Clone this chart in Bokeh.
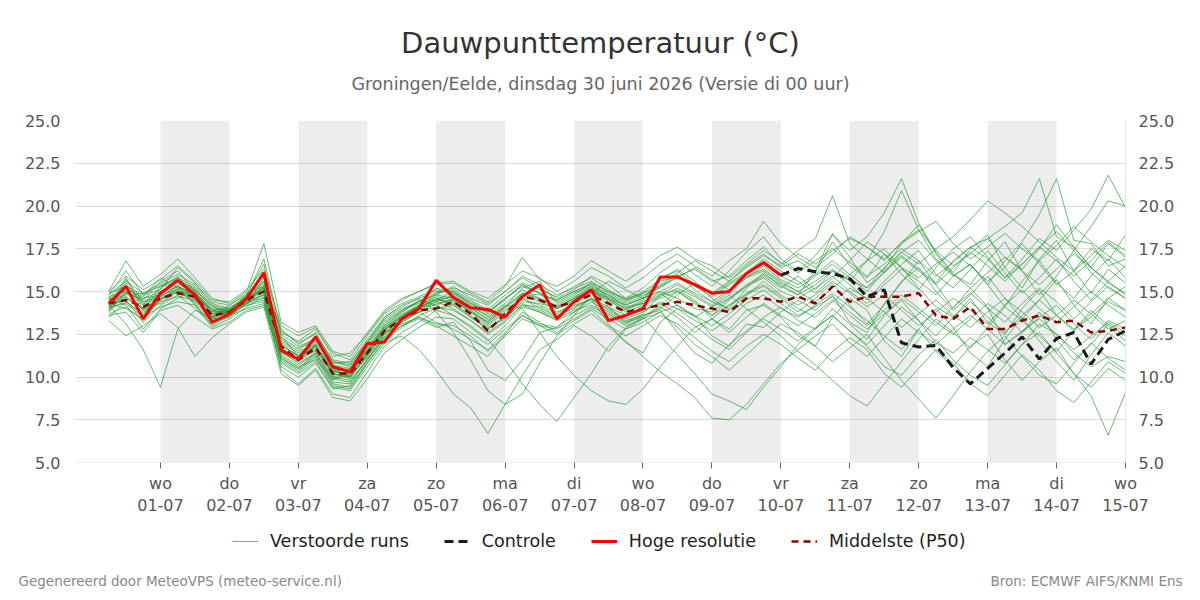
from bokeh.plotting import figure
from bokeh.layouts import column, row
from bokeh.models import (Range1d, LinearAxis, FixedTicker, Legend, LegendItem,
                          BoxAnnotation, PrintfTickFormatter)
from bokeh.core.properties import value
from bokeh.embed import file_html
from bokeh.resources import INLINE

FONT = "DejaVu Sans"

# time axis: days relative to 01-07 00:00, 6-hourly steps starting 30-06 06:00
steps = list(range(60))
t = [-0.75 + 0.25 * k for k in steps]

day_ticks = list(range(15))
weekdays = ["wo", "do", "vr", "za", "zo", "ma", "di", "wo", "do", "vr", "za", "zo", "ma", "di", "wo"]
dates = ["01-07", "02-07", "03-07", "04-07", "05-07", "06-07", "07-07", "08-07",
         "09-07", "10-07", "11-07", "12-07", "13-07", "14-07", "15-07"]
shaded_days = [0, 2, 4, 6, 8, 10, 12]
y_ticks = [5.0, 7.5, 10.0, 12.5, 15.0, 17.5, 20.0, 22.5, 25.0]

title_text = "Dauwpunttemperatuur (°C)"
subtitle_text = "Groningen/Eelde, dinsdag 30 juni 2026 (Versie di 00 uur)"
footer_left = "Gegenereerd door MeteoVPS (meteo-service.nl)"
footer_right = "Bron: ECMWF AIFS/KNMI Ens"
legend_labels = ["Verstoorde runs", "Controle", "Hoge resolutie", "Middelste (P50)"]

hres = [14.3, 15.3, 13.4, 14.9, 15.65, 14.8, 13.2, 13.7, 14.6, 16.1,
        11.55, 11.05, 12.35, 10.6, 10.3, 11.95, 12.05, 13.4, 14.0, 15.65,
        14.65, 14.05, 13.95, 13.5, 14.7, 15.4, 13.4, 14.4, 15.1, 13.3,
        13.6, 14.0, 15.85, 15.85, 15.4, 14.9, 15.0, 16.05, 16.7, 15.95]

controle = [15.95, 16.35, 16.15, 16.05, 15.75, 14.7, 15.1, 12.0, 11.75, 11.85,
            10.55, 9.6, 10.5, 11.4, 12.35, 11.05, 12.25, 12.6, 10.75, 12.2, 12.7]

p50 = [14.3, 14.5, 14.1, 14.6, 14.9, 14.7, 13.6, 13.8, 14.5, 15.0,
       11.8, 11.0, 11.7, 10.2, 10.2, 11.4, 12.7, 13.4, 13.9, 14.0,
       14.4, 13.7, 12.7, 13.7, 14.7, 14.5, 14.1, 14.4, 14.8, 14.3,
       13.8, 14.0, 14.2, 14.4, 14.2, 14.0, 13.8, 14.6, 14.6, 14.4,
       14.7, 14.3, 15.3, 14.4, 14.7, 14.7, 14.7, 14.9, 13.6, 13.4,
       14.1, 12.8, 12.8, 13.3, 13.6, 13.2, 13.3, 12.6, 12.7, 12.9]

members = [
    [14.0, 15.8, 13.9, 15.2, 15.9, 14.6, 13.4, 13.9, 14.8, 16.6, 12.4, 11.2, 12.0, 10.5, 10.0, 11.8, 13.1, 13.9, 14.4, 15.2,
     14.9, 14.2, 13.5, 14.1, 15.2, 15.6, 14.3, 14.8, 15.5, 14.6, 14.0, 14.5, 15.8, 16.2, 15.4, 14.9, 15.6, 16.5, 17.2, 16.4,
     16.8, 16.1, 17.9, 16.5, 15.8, 17.2, 16.4, 15.2, 14.1, 13.5, 14.6, 13.2, 12.5, 14.0, 15.1, 13.6, 12.8, 13.5, 14.4, 13.9],
    [14.6, 14.2, 12.8, 14.0, 14.6, 15.1, 14.2, 13.6, 14.3, 14.8, 11.0, 10.4, 11.2, 9.6, 9.4, 10.8, 12.2, 13.0, 13.4, 12.9,
     13.2, 12.1, 10.4, 9.8, 11.0, 12.6, 12.9, 13.8, 14.6, 13.1, 12.0, 11.4, 13.2, 14.0, 13.6, 12.4, 11.8, 13.1, 12.9, 13.8,
     14.5, 13.9, 14.8, 13.2, 12.6, 14.3, 15.5, 16.8, 15.4, 14.0, 15.2, 14.1, 11.9, 12.6, 13.8, 12.2, 11.0, 11.9, 13.1, 12.4],
    [13.8, 14.9, 14.5, 15.6, 16.2, 15.0, 13.9, 14.1, 14.6, 15.4, 12.8, 11.9, 12.6, 10.9, 10.6, 12.1, 13.5, 14.2, 14.6, 13.8,
     12.6, 11.0, 9.2, 8.4, 9.0, 10.8, 12.4, 13.6, 14.9, 15.6, 15.1, 14.6, 15.3, 16.0, 15.1, 14.4, 14.0, 15.2, 16.1, 15.3,
     14.8, 16.2, 18.4, 17.0, 15.5, 16.3, 17.8, 18.9, 17.2, 16.0, 15.4, 16.8, 17.9, 16.2, 14.8, 15.9, 17.4, 16.1, 15.2, 14.6],
    [14.2, 13.1, 11.6, 9.4, 12.8, 13.9, 13.5, 14.2, 14.9, 15.3, 12.1, 11.5, 11.9, 10.0, 9.8, 11.0, 12.4, 13.3, 14.1, 14.5,
     15.0, 14.4, 13.8, 14.5, 15.4, 14.9, 14.0, 14.6, 15.3, 14.1, 13.2, 13.7, 14.8, 15.1, 14.5, 13.4, 12.8, 13.9, 14.2, 13.5,
     12.4, 11.8, 13.5, 14.6, 13.9, 12.1, 11.2, 12.8, 14.0, 12.9, 11.4, 10.6, 12.2, 13.5, 12.1, 10.9, 9.8, 11.3, 12.6, 11.8],
    [14.8, 16.2, 14.8, 15.1, 16.4, 15.5, 14.3, 14.0, 14.2, 15.8, 11.5, 10.8, 11.4, 9.8, 10.4, 11.6, 12.9, 13.6, 14.2, 14.8,
     15.3, 14.6, 14.2, 15.0, 15.8, 15.2, 14.6, 15.1, 15.9, 15.4, 14.6, 15.2, 16.1, 16.8, 16.0, 15.3, 16.2, 17.3, 18.2, 16.9,
     16.2, 17.1, 18.3, 17.4, 18.2, 19.6, 21.6, 19.0, 17.3, 16.1, 17.5, 18.3, 16.4, 15.2, 16.9, 18.0, 16.2, 14.9, 16.3, 15.5],
    [13.5, 14.4, 13.6, 14.9, 15.3, 14.2, 12.9, 13.4, 14.1, 14.7, 10.4, 9.6, 10.5, 9.0, 8.8, 10.3, 11.8, 12.6, 13.2, 13.9,
     13.6, 12.9, 12.1, 13.0, 14.1, 13.8, 13.4, 13.9, 14.2, 13.7, 13.1, 13.6, 13.9, 12.6, 11.4, 10.8, 11.9, 12.7, 13.5, 14.1,
     13.3, 12.8, 14.0, 13.1, 12.2, 13.6, 14.5, 13.3, 12.0, 11.4, 12.3, 11.6, 10.8, 11.9, 13.1, 12.5, 11.4, 10.6, 11.2, 10.9],
    [14.4, 15.1, 14.7, 15.8, 15.2, 14.9, 13.8, 13.9, 14.4, 15.2, 12.0, 11.4, 11.8, 10.4, 10.0, 11.3, 12.5, 13.4, 14.0, 14.6,
     14.2, 13.5, 12.8, 13.6, 14.9, 14.8, 14.5, 15.0, 15.4, 14.9, 14.4, 14.9, 15.6, 15.9, 16.3, 15.6, 15.9, 16.8, 17.6, 16.6,
     17.4, 18.1, 20.6, 17.8, 16.9, 16.1, 17.3, 18.0, 16.8, 15.9, 16.6, 15.4, 14.1, 15.6, 16.8, 15.5, 14.6, 15.9, 16.9, 15.8],
    [14.1, 14.6, 14.0, 14.3, 15.0, 14.4, 13.3, 13.6, 14.4, 14.6, 11.2, 10.6, 11.0, 9.9, 10.1, 11.2, 12.6, 13.1, 13.5, 13.0,
     12.4, 11.8, 11.2, 12.5, 13.8, 13.2, 12.6, 13.3, 13.9, 13.0, 12.4, 13.0, 13.6, 13.1, 12.3, 11.5, 10.9, 11.8, 12.5, 11.9,
     11.1, 10.4, 11.5, 12.3, 11.6, 10.2, 9.4, 10.5, 11.6, 10.8, 9.6, 8.9, 10.1, 11.3, 10.4, 9.2, 8.5, 9.7, 10.9, 10.2],
    [15.0, 16.8, 15.3, 16.0, 16.9, 15.8, 14.6, 14.3, 15.0, 17.8, 13.2, 12.6, 13.0, 11.5, 11.2, 12.6, 13.9, 14.6, 15.0, 15.5,
     15.6, 15.0, 14.6, 15.4, 16.2, 15.8, 15.0, 15.6, 16.4, 15.9, 15.2, 15.8, 16.6, 17.2, 16.5, 15.9, 16.8, 17.5, 19.1, 17.8,
     17.0, 16.4, 17.2, 18.2, 17.6, 16.8, 17.9, 18.6, 17.4, 16.5, 17.2, 18.1, 17.0, 16.3, 17.5, 18.9, 17.6, 16.4, 17.8, 17.0],
    [13.6, 13.8, 12.6, 13.9, 14.2, 13.5, 12.8, 13.2, 13.9, 14.2, 10.8, 10.2, 10.9, 9.4, 9.2, 10.6, 12.0, 12.4, 11.6, 10.4,
     9.0, 8.2, 6.7, 8.4, 10.1, 11.6, 12.2, 13.0, 12.4, 11.5, 12.8, 13.4, 14.1, 13.5, 12.6, 13.4, 14.2, 14.8, 15.3, 14.6,
     13.8, 14.6, 15.5, 14.2, 13.1, 14.2, 15.6, 16.4, 15.0, 13.9, 14.8, 15.9, 14.6, 13.4, 14.5, 15.7, 14.2, 13.1, 14.6, 15.3],
    [14.5, 15.5, 14.3, 14.8, 15.6, 15.2, 14.0, 13.8, 14.6, 15.5, 11.9, 11.2, 12.3, 10.6, 10.4, 11.7, 13.0, 13.8, 14.5, 14.2,
     13.6, 13.0, 12.2, 11.0, 9.6, 8.4, 7.4, 8.8, 10.2, 11.8, 12.9, 13.5, 14.2, 15.0, 14.3, 13.6, 14.5, 15.3, 15.9, 15.2,
     15.9, 15.1, 16.2, 15.4, 14.5, 15.6, 16.6, 17.4, 16.0, 15.2, 16.3, 17.4, 16.1, 14.9, 15.8, 16.9, 15.6, 14.5, 15.6, 14.8],
    [14.3, 14.0, 13.4, 14.5, 15.0, 14.9, 13.7, 13.9, 14.3, 14.9, 11.6, 11.1, 11.5, 10.3, 10.5, 11.5, 12.8, 13.5, 14.0, 14.4,
     14.8, 14.1, 13.6, 14.3, 15.1, 14.6, 14.2, 14.7, 15.2, 14.8, 14.1, 14.3, 14.8, 15.4, 14.8, 14.2, 15.0, 15.8, 16.5, 15.7,
     15.2, 15.9, 16.6, 15.8, 15.0, 16.2, 17.1, 16.3, 15.5, 16.8, 17.6, 18.1, 18.8, 19.6, 21.6, 18.2, 17.6, 16.4, 15.5, 14.9],
    [14.9, 15.3, 14.8, 15.4, 15.7, 15.1, 14.1, 13.8, 14.7, 15.6, 12.5, 11.8, 12.2, 10.8, 10.9, 12.0, 13.3, 13.9, 14.3, 14.9,
     15.1, 14.5, 13.9, 14.8, 15.5, 15.1, 14.7, 15.3, 15.8, 15.1, 14.5, 15.0, 15.7, 16.3, 15.6, 14.8, 15.5, 16.1, 16.9, 16.2,
     15.6, 14.9, 15.8, 16.8, 17.9, 17.2, 16.0, 15.1, 16.4, 17.5, 18.2, 17.0, 15.8, 16.9, 18.1, 17.4, 18.6, 19.8, 21.8, 19.9],
    [13.9, 14.5, 13.2, 14.2, 14.8, 14.0, 13.1, 13.7, 14.2, 14.4, 11.1, 10.5, 11.3, 9.7, 9.6, 11.1, 12.3, 13.2, 13.8, 14.3,
     14.5, 13.9, 13.1, 13.9, 14.6, 14.2, 13.8, 14.2, 14.5, 14.0, 13.4, 13.8, 14.4, 14.0, 13.3, 12.7, 13.4, 14.3, 14.8, 14.0,
     13.5, 14.2, 14.9, 14.1, 13.3, 12.4, 11.6, 12.8, 11.5, 10.6, 11.8, 12.5, 11.0, 9.8, 10.9, 11.7, 10.2, 8.9, 6.6, 9.1],
    [14.7, 15.0, 14.2, 14.7, 15.3, 14.8, 13.6, 13.7, 14.5, 15.1, 11.7, 11.0, 11.9, 10.1, 10.3, 11.5, 12.9, 13.6, 14.1, 14.2,
     14.6, 13.9, 13.2, 14.0, 14.8, 14.4, 14.0, 14.4, 15.0, 14.6, 14.0, 14.3, 14.7, 15.2, 14.7, 14.1, 14.6, 15.3, 15.8, 15.0,
     14.6, 15.2, 15.9, 15.0, 14.3, 15.4, 16.3, 15.6, 14.8, 15.9, 16.6, 15.4, 16.8, 17.9, 19.5, 21.6, 18.0, 17.8, 16.5, 16.9],
    [14.0, 14.7, 13.8, 14.4, 14.7, 14.5, 13.5, 13.8, 14.6, 15.2, 11.4, 10.9, 11.6, 10.2, 9.9, 11.3, 12.7, 13.5, 14.2, 14.6,
     14.3, 13.6, 12.9, 13.4, 14.4, 14.3, 14.0, 14.5, 15.1, 14.7, 14.2, 14.6, 15.0, 14.6, 14.0, 13.8, 14.6, 15.4, 16.0, 15.4,
     14.8, 15.4, 16.2, 15.7, 15.2, 16.4, 17.3, 16.6, 17.5, 18.2, 19.2, 20.3, 19.6, 18.8, 17.9, 17.0, 16.2, 17.1, 18.0, 17.4],
    [14.2, 15.2, 14.6, 15.0, 15.4, 14.6, 13.4, 13.5, 14.4, 14.8, 11.3, 10.7, 11.4, 10.0, 10.2, 11.4, 12.8, 13.3, 13.8, 13.2,
     12.8, 12.2, 11.6, 12.6, 13.6, 13.0, 12.8, 13.4, 14.0, 13.4, 12.8, 13.2, 13.8, 12.9, 11.9, 11.2, 10.4, 11.3, 12.2, 13.1,
     12.6, 11.8, 10.9, 11.7, 12.5, 11.1, 9.8, 8.7, 7.6, 8.9, 10.3, 11.5, 12.4, 11.2, 10.1, 9.6, 10.8, 12.0, 11.1, 10.4],
    [14.6, 15.7, 14.4, 14.9, 15.8, 15.3, 14.2, 13.9, 14.6, 15.0, 12.2, 11.6, 12.3, 10.9, 10.7, 12.0, 13.4, 14.0, 14.4, 14.9,
     15.2, 14.8, 14.3, 15.0, 15.9, 15.4, 14.8, 15.2, 15.6, 15.0, 14.6, 14.9, 15.3, 15.8, 16.4, 15.7, 15.1, 15.9, 16.3, 15.6,
     15.0, 14.4, 15.2, 16.0, 16.8, 17.5, 16.4, 15.8, 16.6, 17.3, 16.5, 15.6, 16.4, 17.8, 16.6, 15.4, 16.2, 17.5, 16.8, 18.3],
    [13.3, 12.4, 13.0, 13.7, 12.9, 11.2, 12.3, 13.1, 13.8, 14.1, 10.2, 9.5, 10.4, 8.8, 8.6, 9.9, 11.4, 12.2, 12.9, 13.5,
     13.4, 12.6, 11.9, 12.8, 13.6, 13.1, 12.9, 13.6, 14.1, 13.6, 13.0, 13.4, 13.8, 14.2, 13.6, 13.0, 13.7, 14.5, 15.1, 14.3,
     13.6, 14.1, 14.7, 13.8, 13.0, 13.9, 14.8, 14.0, 13.2, 12.5, 13.4, 14.3, 13.6, 12.6, 13.5, 14.2, 13.1, 12.2, 13.3, 12.8],
    [14.5, 14.8, 14.9, 15.5, 16.0, 15.4, 14.4, 14.2, 14.8, 15.6, 12.6, 12.1, 12.8, 11.4, 11.0, 12.4, 13.7, 14.3, 14.7, 15.1,
     14.9, 14.3, 13.7, 14.6, 15.3, 14.9, 14.4, 14.9, 15.3, 14.8, 14.3, 14.7, 15.4, 16.1, 16.8, 16.2, 15.6, 16.4, 17.1, 16.5,
     17.2, 16.6, 17.4, 18.1, 17.6, 16.9, 17.8, 18.5, 19.1, 17.8, 16.9, 17.6, 18.4, 17.5, 16.8, 17.7, 18.8, 17.9, 17.1, 16.4],
    [14.1, 14.3, 13.5, 14.1, 14.4, 14.2, 13.2, 13.5, 14.3, 14.5, 10.9, 10.3, 11.1, 9.5, 9.3, 10.8, 12.1, 12.9, 13.6, 14.0,
     14.2, 13.5, 12.8, 13.5, 14.3, 13.9, 13.5, 14.1, 14.6, 14.1, 13.6, 13.9, 14.3, 13.7, 13.0, 12.2, 11.6, 12.6, 13.4, 12.8,
     12.1, 12.9, 13.6, 12.7, 11.8, 10.6, 10.1, 11.3, 12.2, 11.0, 10.1, 9.5, 10.7, 11.9, 12.6, 11.4, 10.2, 9.4, 10.5, 9.8],
    [14.4, 15.4, 14.2, 15.3, 15.5, 14.8, 13.7, 14.0, 14.7, 15.9, 11.8, 11.3, 11.7, 10.4, 10.1, 11.6, 13.0, 13.7, 14.2, 14.7,
     14.5, 13.8, 13.0, 13.8, 14.6, 14.0, 13.6, 14.0, 14.6, 13.9, 13.3, 13.6, 14.0, 14.8, 15.5, 14.6, 13.9, 14.8, 15.6, 14.8,
     14.2, 14.8, 15.6, 14.9, 14.1, 14.8, 13.9, 13.0, 13.8, 14.6, 13.9, 13.1, 14.2, 15.1, 14.0, 13.2, 14.1, 15.0, 14.2, 13.5],
    [13.7, 14.1, 13.3, 14.6, 15.1, 14.3, 13.0, 13.6, 14.0, 14.3, 10.6, 10.0, 10.8, 9.3, 9.5, 10.9, 12.3, 13.0, 13.5, 13.1,
     13.0, 12.4, 11.5, 12.4, 13.4, 13.0, 12.5, 13.1, 13.7, 12.9, 12.1, 11.2, 10.3, 9.6, 8.8, 7.6, 7.5, 8.4, 9.6, 10.8,
     11.6, 12.4, 13.1, 12.0, 11.2, 12.3, 13.4, 12.6, 11.9, 12.8, 13.6, 12.8, 11.9, 12.7, 13.4, 12.5, 11.6, 12.4, 13.2, 12.6],
    [14.2, 14.9, 14.6, 14.8, 15.1, 14.5, 13.5, 13.9, 14.5, 15.3, 11.5, 11.0, 11.8, 10.2, 10.0, 11.2, 12.6, 13.4, 13.9, 14.4,
     14.0, 13.3, 12.5, 13.2, 14.2, 14.1, 13.7, 14.3, 14.9, 14.5, 13.8, 14.2, 14.6, 15.0, 14.4, 13.6, 14.2, 14.9, 15.4, 14.7,
     14.0, 13.5, 14.4, 15.2, 14.6, 13.8, 12.9, 13.7, 14.5, 13.6, 12.9, 13.8, 14.6, 13.8, 12.9, 13.6, 14.5, 13.7, 12.8, 13.3],
    [14.6, 14.4, 13.7, 15.0, 15.6, 15.0, 13.9, 13.7, 14.5, 15.1, 12.3, 11.7, 12.1, 10.7, 10.5, 11.9, 13.2, 13.8, 14.4, 14.8,
     14.6, 14.0, 13.4, 14.2, 14.0, 12.6, 11.2, 10.1, 9.2, 8.6, 8.4, 9.3, 10.6, 11.8, 12.9, 13.4, 12.6, 13.5, 14.3, 13.6,
     13.0, 13.7, 14.5, 13.6, 12.8, 13.7, 14.6, 13.8, 13.0, 14.1, 14.9, 14.0, 13.2, 14.3, 15.2, 14.4, 13.4, 14.4, 15.3, 14.6],
    [15.0, 15.9, 15.1, 15.7, 16.5, 15.6, 14.5, 14.4, 15.1, 16.3, 13.0, 12.4, 12.9, 11.2, 11.4, 12.5, 13.8, 14.5, 15.0, 15.4,
     15.5, 14.9, 14.4, 15.3, 17.0, 15.7, 15.3, 15.9, 16.8, 16.2, 15.6, 16.3, 17.1, 17.6, 16.9, 16.5, 15.8, 16.6, 17.4, 16.7,
     16.1, 16.8, 17.5, 16.7, 15.9, 16.6, 17.5, 16.8, 15.9, 16.7, 17.6, 16.9, 15.8, 16.6, 17.6, 16.8, 15.9, 16.8, 17.9, 17.1],
    [13.9, 15.0, 13.9, 14.5, 15.2, 14.6, 13.4, 13.8, 14.4, 15.0, 11.1, 10.5, 11.4, 9.9, 9.7, 11.0, 12.5, 13.2, 13.8, 14.1,
     13.9, 13.3, 12.6, 13.3, 14.2, 13.8, 13.3, 13.8, 14.4, 13.8, 13.2, 13.5, 12.4, 11.3, 10.2, 9.0, 8.6, 8.1, 9.4, 10.6,
     11.9, 12.8, 13.6, 12.7, 11.9, 13.0, 14.1, 13.3, 12.4, 13.5, 14.4, 13.5, 12.6, 13.6, 14.5, 13.6, 12.7, 13.7, 14.6, 13.9],
    [14.3, 15.0, 14.4, 14.7, 15.3, 14.8, 13.9, 14.0, 14.6, 15.2, 11.9, 11.2, 11.8, 10.5, 10.3, 11.5, 12.8, 13.6, 14.1, 14.5,
     14.7, 14.1, 13.3, 14.1, 14.9, 14.6, 14.1, 14.6, 15.0, 14.5, 13.9, 14.4, 14.9, 14.2, 13.5, 14.1, 14.8, 14.0, 13.2, 12.4,
     11.5, 10.7, 9.8, 8.9, 8.3, 9.6, 10.9, 12.2, 13.4, 12.6, 11.7, 12.9, 14.1, 13.3, 12.4, 11.5, 12.7, 13.9, 13.0, 12.1],
    [14.4, 14.7, 14.0, 14.6, 15.0, 14.6, 13.6, 13.8, 14.4, 15.3, 11.7, 11.1, 11.8, 10.3, 10.2, 11.4, 12.7, 13.5, 14.1, 14.5,
     14.4, 13.8, 13.2, 14.1, 14.9, 14.5, 14.1, 14.6, 15.1, 14.6, 14.2, 14.6, 15.0, 15.5, 14.9, 14.4, 15.1, 15.8, 16.2, 15.5,
     15.0, 15.6, 16.3, 15.6, 16.8, 18.5, 20.9, 18.6, 16.9, 16.0, 15.2, 16.1, 17.0, 16.2, 15.4, 16.3, 17.2, 16.4, 15.6, 16.5],
    [14.8, 15.6, 14.9, 15.3, 15.8, 15.0, 13.8, 13.9, 14.8, 16.9, 12.7, 12.0, 12.5, 11.0, 10.8, 12.2, 13.5, 14.1, 14.6, 15.0,
     15.0, 14.3, 13.8, 14.6, 15.4, 14.9, 14.5, 15.0, 15.5, 15.0, 14.5, 14.8, 15.2, 15.9, 15.3, 14.7, 15.4, 16.0, 16.6, 15.9,
     15.4, 16.0, 16.8, 16.0, 15.2, 16.1, 17.0, 16.2, 15.4, 16.4, 17.3, 16.5, 15.6, 16.6, 17.6, 18.5, 17.4, 18.8, 20.3, 20.0],
]

ENS_COLOR, ENS_ALPHA = "#259b35", 0.68
P50_COLOR, CTRL_COLOR, HRES_COLOR = "#8b0000", "#1a1a1a", "#ff0000"


def blank_figure(height):
    f = figure(width=1200, height=height, output_backend="svg", toolbar_location=None,
               x_range=Range1d(0, 1200), y_range=Range1d(0, height),
               x_axis_location=None, y_axis_location=None,
               min_border=0, min_border_left=0, min_border_right=0, min_border_top=0, min_border_bottom=0,
               background_fill_color="white", border_fill_color="white", outline_line_color=None)
    f.grid.visible = False
    return f


# ---- title block (canvas y 0..110)
top = blank_figure(110)
top.text(x=[600], y=[68], text=[title_text], text_align="center", text_baseline="middle",
         text_font=value(FONT), text_font_size="29px", text_color="#333333")
top.text(x=[600], y=[27], text=[subtitle_text], text_align="center", text_baseline="middle",
         text_font=value(FONT), text_font_size="17.5px", text_color="#666666")

# ---- main chart (canvas y 110..520, frame 120..462)
p = figure(width=1200, height=410, output_backend="svg", toolbar_location=None,
           x_range=Range1d(-1.233, 14.0), y_range=Range1d(5, 25),
           min_border_left=75, min_border_right=75, min_border_top=10, min_border_bottom=58,
           background_fill_color="white", border_fill_color="white", outline_line_color=None)

for d in shaded_days:
    p.add_layout(BoxAnnotation(left=d, right=d + 1, fill_color="black", fill_alpha=0.07,
                               line_color=None, level="underlay"))

yt = FixedTicker(ticks=y_ticks)
p.yaxis.ticker = yt
p.yaxis.formatter = PrintfTickFormatter(format="%.1f")
right_axis = LinearAxis(ticker=FixedTicker(ticks=y_ticks), formatter=PrintfTickFormatter(format="%.1f"))
p.add_layout(right_axis, "right")
for ax in (p.yaxis[0], right_axis):
    ax.major_tick_line_color = None
    ax.minor_tick_line_color = None
    ax.axis_line_color = None
    ax.major_label_text_font = FONT
    ax.major_label_text_font_size = "16px"
    ax.major_label_text_color = "#555555"
    ax.major_label_standoff = 9
right_axis.axis_line_color = "#e6e6e6"
right_axis.major_label_standoff = 7

p.xaxis.ticker = FixedTicker(ticks=day_ticks)
p.xaxis.major_label_overrides = {d: f"{w}\n{dt}" for d, w, dt in zip(day_ticks, weekdays, dates)}
p.xaxis.major_label_text_font = FONT
p.xaxis.major_label_text_font_size = "16px"
p.xaxis.major_label_text_color = "#555555"
p.xaxis.major_tick_in = 0
p.xaxis.major_tick_out = 6
p.xaxis.major_tick_line_color = "#666666"
p.xaxis.minor_tick_line_color = None
p.xaxis.axis_line_color = "#eeeeee"
p.xaxis.major_label_standoff = 5

p.xgrid.visible = False
p.ygrid.ticker = yt
p.ygrid.grid_line_color = "#dcdcdc"

p.multi_line(xs=[t] * len(members), ys=members, line_color=ENS_COLOR, line_alpha=ENS_ALPHA, line_width=1)
p.line(t, p50, line_color=P50_COLOR, line_width=2.5, line_dash="7 5")
p.line(t[39:], controle, line_color=CTRL_COLOR, line_width=3, line_dash="9 5")
p.line(t[:40], hres, line_color=HRES_COLOR, line_width=3)

# ---- legend + footer block (canvas y 520..600)
bot = blank_figure(80)
off_x, off_y = [-20, -10], [-20, -20]   # legend proxies, kept outside the visible range
g_ens = bot.line(x=off_x, y=off_y, line_color=ENS_COLOR, line_alpha=ENS_ALPHA, line_width=1)
g_ctrl = bot.line(x=off_x, y=off_y, line_color=CTRL_COLOR, line_width=3, line_dash="9 5")
g_hres = bot.line(x=off_x, y=off_y, line_color=HRES_COLOR, line_width=3)
g_p50 = bot.line(x=off_x, y=off_y, line_color=P50_COLOR, line_width=2.5, line_dash="7 5")
legend = Legend(items=[LegendItem(label=lab, renderers=[r])
                       for lab, r in zip(legend_labels, [g_ens, g_ctrl, g_hres, g_p50])],
                orientation="horizontal", location=(232, 49),
                label_text_font=FONT, label_text_font_size="17.5px", label_text_color="#222222",
                glyph_width=26, glyph_height=20, label_standoff=12, spacing=35,
                border_line_color=None, background_fill_alpha=0, padding=4, margin=0)
bot.add_layout(legend)
bot.text(x=[18], y=[20], text=[footer_left], text_align="left", text_baseline="middle",
         text_font=value(FONT), text_font_size="13.5px", text_color="#888888")
bot.text(x=[1182], y=[20], text=[footer_right], text_align="right", text_baseline="middle",
         text_font=value(FONT), text_font_size="13.5px", text_color="#888888")

layout = column(row(top), row(p), row(bot), spacing=0)
open("out.html", "w").write(file_html(layout, INLINE))
